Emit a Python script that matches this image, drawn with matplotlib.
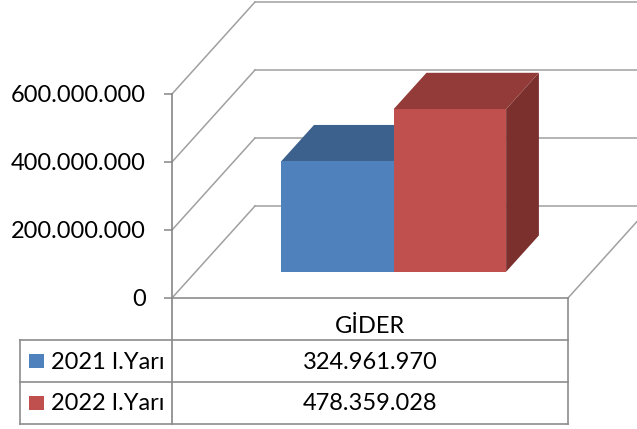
import matplotlib
matplotlib.use("Agg")
import matplotlib.pyplot as plt
from matplotlib.patches import Polygon, Rectangle
from matplotlib.ticker import FuncFormatter

categories = ["GİDER"]
series_names = ["2021 I.Yarı", "2022 I.Yarı"]
values = [324961970, 478359028]
yticks = [0, 200000000, 400000000, 600000000]

front_colors = ["#4F81BD", "#C0504D"]
top_colors = ["#3C618C", "#933B38"]
side_colors = ["#36587F", "#7B302E"]

plt.rcParams['font.family'] = ['Lato', 'DejaVu Sans']

def fmt(v):
    return f"{int(v):,}".replace(",", ".")

W, H = 637, 429
fig = plt.figure(figsize=(W / 100, H / 100), dpi=100)
fig.patch.set_facecolor("white")

# front plane of the 3D plot area (pixels)
L, R, B, T = 172, 568, 298, 94
ax = fig.add_axes([L / W, 1 - B / H, (R - L) / W, (B - T) / H])
ax.set_xlim(0, 1)
ax.set_ylim(0, yticks[-1])
ax.patch.set_visible(False)
for s in ax.spines.values():
    s.set_visible(False)
ax.set_xticks([])
ax.set_yticks(yticks)
ax.yaxis.set_major_formatter(FuncFormatter(lambda v, p: fmt(v)))
ax.tick_params(axis="y", length=5.8, width=1.1, color="#868686", pad=13,
               labelsize=17, labelcolor="black")

DX = 83 / (R - L)
DY = 92 / (B - T) * yticks[-1]
grid = "#a0a0a0"

def P(x, v, d):
    return (x + d * DX, v + d * DY)

# walls gridlines
for v in yticks:
    ax.plot([0, DX], [v, v + DY], color=grid, lw=1.1, clip_on=False, zorder=1)
    ax.plot([DX, 1 + DX + 0.2], [v + DY, v + DY], color=grid, lw=1.1, clip_on=False, zorder=1)
ax.plot([1, 1 + DX], [0, DY], color=grid, lw=1.1, clip_on=False, zorder=1)

# bars
w = 0.284
d0, d1 = 0.285, 0.68
n = len(values)
for i, v in enumerate(values):
    xl = 0.5 - w * n / 2 + i * w
    xr = xl + w
    side = [P(xr, 0, d0), P(xr, v, d0), P(xr, v, d1), P(xr, 0, d1)]
    top = [P(xl, v, d0), P(xr, v, d0), P(xr, v, d1), P(xl, v, d1)]
    front = [P(xl, 0, d0), P(xr, 0, d0), P(xr, v, d0), P(xl, v, d0)]
    for poly, c in ((side, side_colors[i]), (top, top_colors[i]), (front, front_colors[i])):
        ax.add_patch(Polygon(poly, closed=True, facecolor=c, edgecolor="none",
                             clip_on=False, zorder=3 + i))

# overlay: data table
ov = fig.add_axes([0, 0, 1, 1])
ov.set_xlim(0, W)
ov.set_ylim(H, 0)
ov.axis("off")
tcol = "#8c8c8c"
lw = 1.2
ov.plot([L, L], [T, 424], color="#868686", lw=lw)
ov.plot([L, R], [B, B], color=tcol, lw=lw)
for yy in (340, 382, 424):
    ov.plot([20, R], [yy, yy], color=tcol, lw=lw)
ov.plot([20, 20], [340, 424], color=tcol, lw=lw)
ov.plot([R, R], [B, 424], color=tcol, lw=lw)

cx = (L + R) / 2
ov.text(cx, 333, categories[0], ha="center", va="baseline", fontsize=17)
for i, (name, v) in enumerate(zip(series_names, values)):
    base = 369 + i * 41
    ov.add_patch(Rectangle((29, 354 + i * 42), 15, 14, facecolor=front_colors[i], edgecolor="none"))
    ov.text(51, base, name, ha="left", va="baseline", fontsize=17)
    ov.text(cx, base, fmt(v), ha="center", va="baseline", fontsize=17)

fig.savefig("out.png", dpi=100)
